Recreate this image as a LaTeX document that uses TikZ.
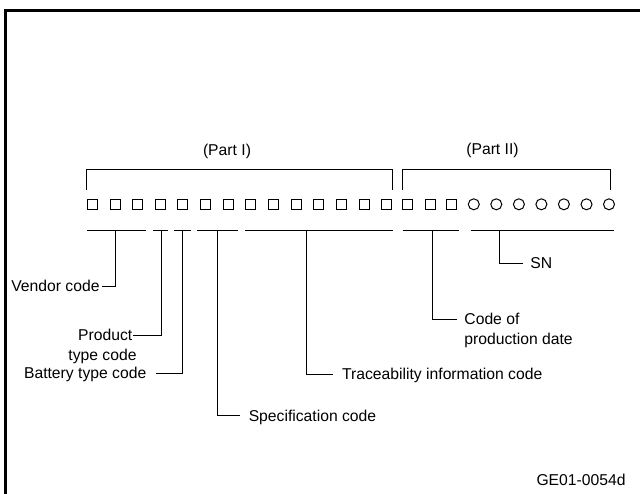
\documentclass[tikz,border=0pt]{standalone}
\usepackage{fontspec}
\setmainfont{Liberation Sans}
\begin{document}
\begin{tikzpicture}[x=1pt,y=-1pt,line width=0.9pt,
  cell/.style={draw,inner sep=0pt,line width=1pt},
  sqcell/.style={cell,rectangle,minimum size=10pt},
  rdcell/.style={cell,circle,minimum size=11pt},
  lbl/.style={inner sep=0pt,text height=11pt,text depth=0pt,
              font=\fontsize{15.7}{20}\selectfont},
  frameline/.style={line width=3.2pt}]
\useasboundingbox (0,0) rectangle (640,493);

% sheet frame (left and top edges)
\draw[frameline] (5.7,500) -- (5.7,10.7) -- (650,10.7);

% code positions: 17 letter cells and 7 digit cells
\foreach \x [count=\i] in {92.3,115,137.6,160.3,182.9,205.6,228.2,250.9,273.5,
    296.2,318.8,341.5,364.1,386.8,407.7,430.3,451.7,
    473.8,496.3,518.9,541.4,563.9,586.5,609}{
  \ifnum\i>17
    \node[rdcell] (c\i) at (\x,204.3) {};
  \else
    \node[sqcell] (c\i) at (\x,204.3) {};
  \fi
}

% part brackets
\coordinate (bt) at (0,169.5);
\coordinate (bb) at (0,189.5);
\draw (c1.west |- bb) -- (c1.west |- bt) -- (c14.east |- bt) -- (c14.east |- bb);
\draw (c15.west |- bb) -- (c15.west |- bt) -- ([xshift=1.7pt]c24.center |- bt)
      -- ([xshift=1.7pt]c24.center |- bb);
\node[lbl] (p1) at (227,149.5) {(Part I)};
\node[lbl] (p2) at (492.5,148.5) {(Part II)};

% field underlines
\draw (87.3,230) -- (146,230);
\draw (153,230) -- (168,230);
\draw (174,230) -- (191,230);
\draw (197,230) -- (238,230);
\draw (245,230) -- (393,230);
\draw (402.7,230) -- (459,230);
\draw (470.7,230) -- (614,230);

% tick points on the underlines
\coordinate (tV) at (115,230);
\coordinate (tP) at (161.7,230);
\coordinate (tB) at (182.7,230);
\coordinate (tS) at (217.3,230);
\coordinate (tT) at (306.7,230);
\coordinate (tD) at (432.7,230);
\coordinate (tN) at (499.3,230);

% field labels
\node[lbl,anchor=east] (vend) at (100,286) {Vendor code};
\node[lbl,anchor=east] (prod) at (132.7,335) {Product};
\node[lbl,anchor=east] (prod2) at (137,355) {type code};
\node[lbl,anchor=east] (batt) at (146.7,373.3) {Battery type code};
\node[lbl,anchor=west] (spec) at (248.3,415.7) {Specification code};
\node[lbl,anchor=west] (trace) at (341.7,374.3) {Traceability information code};
\node[lbl,anchor=west] (date) at (464,319.3) {Code of};
\node[lbl,anchor=west] (date2) at (464,339.3) {production date};
\node[lbl,anchor=west] (sn) at (530,263.3) {SN};
\node[lbl,anchor=east] (ref) at (626,480) {GE01-0054d};

% leader lines
\draw (tV) |- ([xshift=1.7pt]vend.east);
\draw (tP) |- ([xshift=0.5pt]prod.east);
\draw (tB) |- ([xshift=9.3pt]batt.east);
\draw (tS) |- ([xshift=-8.3pt]spec.west);
\draw (tT) |- ([xshift=-8.4pt]trace.west);
\draw (tD) |- ([xshift=-7.3pt]date.west);
\draw (tN) |- ([xshift=-6.7pt]sn.west);
\end{tikzpicture}
\end{document}
